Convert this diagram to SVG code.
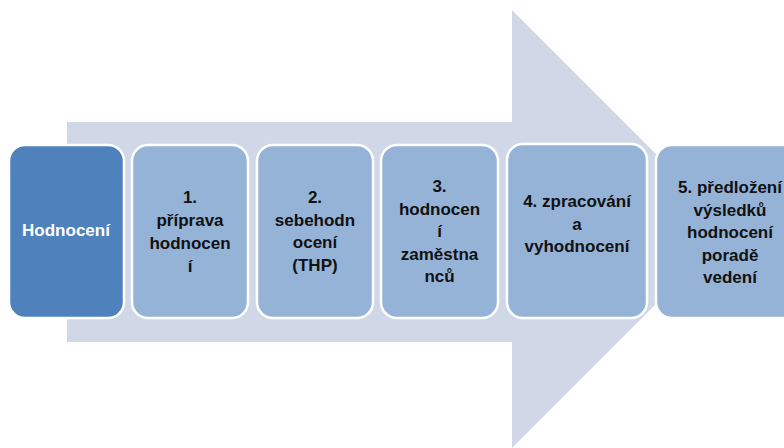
<svg xmlns="http://www.w3.org/2000/svg" width="784" height="448" viewBox="0 0 784 448">
<style>
.box{fill:#95B3D7;stroke:#FFFFFF;stroke-width:2.5}
.main{fill:#4F81BD;stroke:#FFFFFF;stroke-width:2.5}
.t{font-family:"Liberation Sans",Arial,sans-serif;font-weight:bold;font-size:17px;fill:#111;text-anchor:middle}
.w{fill:#FFFFFF}
</style>
<rect width="784" height="448" fill="#FFFFFF"/>
<g id="arrow">
<path d="M67,122 L512,122 L512,10 L731,229 L512,448 L512,342 L67,342 Z" fill="#D0D8E8"/>
</g>
<g id="n0">
<rect class="main" x="9" y="145" width="115" height="173" rx="16"/>
<text class="t w" x="66" y="236">Hodnocení</text>
</g>
<g id="n1">
<rect class="box" x="132" y="145" width="116" height="173" rx="16"/>
<text class="t" x="190" y="203">1.</text>
<text class="t" x="190" y="226">příprava</text>
<text class="t" x="190" y="249">hodnocen</text>
<text class="t" x="190" y="272">í</text>
</g>
<g id="n2">
<rect class="box" x="257" y="145" width="116" height="173" rx="16"/>
<text class="t" x="315" y="203">2.</text>
<text class="t" x="315" y="225.5">sebehodn</text>
<text class="t" x="315" y="248">ocení</text>
<text class="t" x="315" y="270.5">(THP)</text>
</g>
<g id="n3">
<rect class="box" x="381" y="145" width="117" height="173" rx="16"/>
<text class="t" x="439.5" y="192">3.</text>
<text class="t" x="439.5" y="214.5">hodnocen</text>
<text class="t" x="439.5" y="237">í</text>
<text class="t" x="439.5" y="259.5">zaměstna</text>
<text class="t" x="439.5" y="282">nců</text>
</g>
<g id="n4">
<rect class="box" x="507" y="144" width="140" height="174" rx="16"/>
<text class="t" x="577" y="207">4. zpracování</text>
<text class="t" x="577" y="229.5">a</text>
<text class="t" x="577" y="252">vyhodnocení</text>
</g>
<g id="n5">
<rect class="box" x="656" y="145" width="148" height="173" rx="16"/>
<text class="t" x="730" y="193">5. předložení</text>
<text class="t" x="730" y="215.5">výsledků</text>
<text class="t" x="730" y="238">hodnocení</text>
<text class="t" x="730" y="260.5">poradě</text>
<text class="t" x="730" y="283">vedení</text>
</g>
<g id="connectors"></g>
</svg>
